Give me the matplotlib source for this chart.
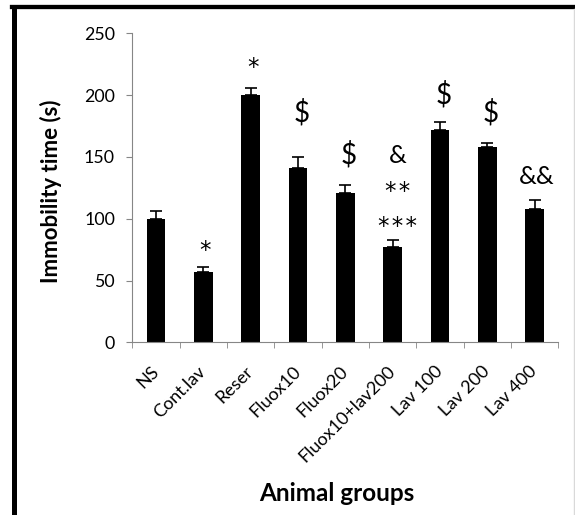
import numpy as np
import matplotlib.pyplot as plt
from matplotlib.lines import Line2D

plt.rcParams['font.family'] = ['Lato', 'DejaVu Sans']

groups = ["NS", "Cont.lav", "Reser", "Fluox10", "Fluox20", "Fluox10+lav200",
          "Lav 100", "Lav 200", "Lav 400"]
means = [100, 57, 200, 141, 121, 77, 172, 158, 108]
errs = [6, 4, 6, 9, 6, 6, 6, 3, 7]
# significance marks: (group index, text, y position)
marks = [(1, "*", 80), (2, "*", 228), (3, "$", 186), (4, "$", 152),
         (5, "&", 151), (5, "**", 128), (5, "***", 100), (6, "$", 200),
         (7, "$", 186), (8, "&&", 134)]

fig = plt.figure(figsize=(5.75, 5.15), dpi=100)
ax = fig.add_axes([0.2301, 0.3353, 0.7409, 0.6])

x = np.arange(len(groups))
ax.bar(x, means, width=0.39, color='black', zorder=2)
ax.errorbar(x, means, yerr=[np.zeros(len(errs)), errs], fmt='none',
            ecolor='black', elinewidth=1.2, capsize=4.5, capthick=1.2, zorder=3)

for i, s, yv in marks:
    nudge = 0.1 if i == 5 else 0.04
    if '*' in s:
        # hair spaces open the asterisks up a little, as in the original
        ax.text(i + nudge, yv - 6, '\u200a'.join(s), ha='center', va='center',
                fontsize=16.5, family='DejaVu Sans', color='black')
    elif s == '$':
        ax.text(i + 0.08, yv, s, ha='center', va='center', fontsize=20,
                color='black')
    else:
        ax.text(i + nudge, yv, s, ha='center', va='center', fontsize=18,
                color='black')

ax.set_xlim(-0.5, len(groups) - 0.5)
ax.set_ylim(0, 250)
ax.set_yticks([0, 50, 100, 150, 200, 250])
ax.set_xticks(x)
ax.set_xticklabels(groups, rotation=45, ha='right', va='center',
                   rotation_mode='anchor', fontsize=13)
ax.set_xticks(np.arange(-0.5, len(groups), 1), minor=True)
ax.tick_params(axis='x', which='major', length=0, pad=19)
ax.tick_params(axis='x', which='minor', length=4.5, color='#868686', direction='out')
ax.tick_params(axis='y', length=4.5, color='#868686', labelsize=12.8, pad=8)

for side in ['top', 'right']:
    ax.spines[side].set_visible(False)
for side in ['left', 'bottom']:
    ax.spines[side].set_color('#868686')

fig.text(0.0878, 0.6295, "Immobility time (s)", rotation=90, ha='center',
         va='center', fontsize=16, fontweight='bold')
fig.text(0.586, 0.0427, "Animal groups", ha='center', va='center',
         fontsize=17.5, fontweight='bold')

# frame around the chart
fig.add_artist(Line2D([0.0252, 0.0252], [0, 0.986], transform=fig.transFigure,
                      color='black', lw=3.6))
fig.add_artist(Line2D([0.021, 1], [0.986, 0.986], transform=fig.transFigure,
                      color='black', lw=3.1))
fig.add_artist(Line2D([0.998, 0.998], [0, 0.983], transform=fig.transFigure,
                      color='#d9d9d9', lw=1.0))

fig.savefig("out.png", dpi=100)
